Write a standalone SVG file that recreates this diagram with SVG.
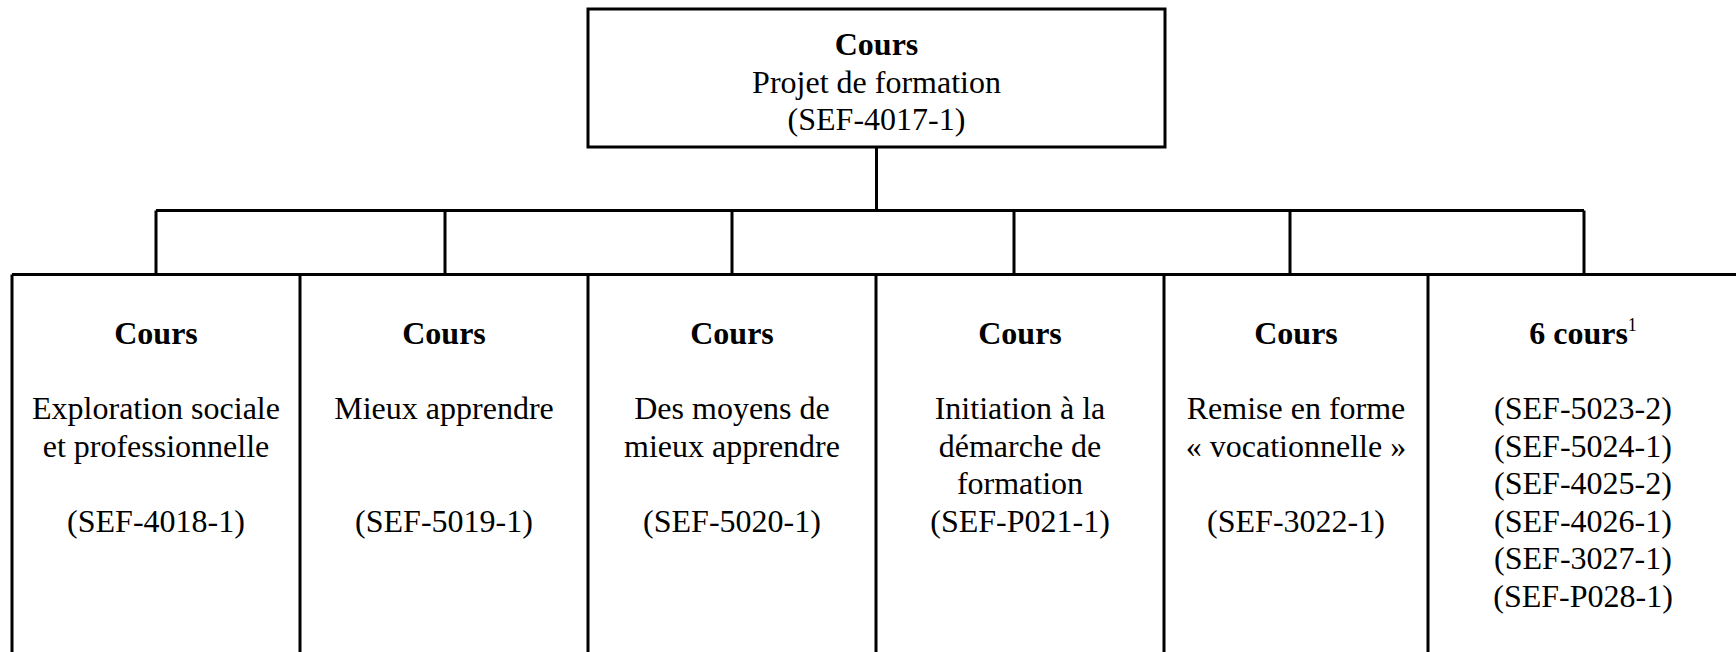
<svg xmlns="http://www.w3.org/2000/svg" width="1736" height="652" viewBox="0 0 1736 652">
<style>
.box{fill:none;stroke:#000;stroke-width:3}
.ln{fill:none;stroke:#000;stroke-width:3}
text{font-family:"Liberation Serif","Times New Roman",serif;font-size:32px;fill:#000;text-anchor:middle}
.b{font-weight:bold}
</style>
<rect width="1736" height="652" fill="#fff"/>
<g id="connectors">
<path class="ln" d="M876.5 147V210.5M156 210.5H1584M156 210.5V274M445 210.5V274M732 210.5V274M1014 210.5V274M1290 210.5V274M1584 210.5V274"/>
</g>
<g id="top">
<rect class="box" x="588" y="9" width="577" height="138"/>
<text x="876.5" y="55" class="b">Cours</text>
<text x="876.5" y="92.5">Projet de formation</text>
<text x="876.5" y="130">(SEF-4017-1)</text>
</g>
<g id="row">
<path class="ln" d="M12 274.5H1736M12 274.5V652M1740 274.5V652"/>
</g>
<g id="c1">
<path class="ln" d="M300 274.5V652"/>
<text x="156" y="344" class="b">Cours</text>
<text x="156" y="419">Exploration sociale</text>
<text x="156" y="456.5">et professionnelle</text>
<text x="156" y="531.5">(SEF-4018-1)</text>
</g>
<g id="c2">
<path class="ln" d="M588 274.5V652"/>
<text x="444" y="344" class="b">Cours</text>
<text x="444" y="419">Mieux apprendre</text>
<text x="444" y="531.5">(SEF-5019-1)</text>
</g>
<g id="c3">
<path class="ln" d="M876 274.5V652"/>
<text x="732" y="344" class="b">Cours</text>
<text x="732" y="419">Des moyens de</text>
<text x="732" y="456.5">mieux apprendre</text>
<text x="732" y="531.5">(SEF-5020-1)</text>
</g>
<g id="c4">
<path class="ln" d="M1164 274.5V652"/>
<text x="1020" y="344" class="b">Cours</text>
<text x="1020" y="419">Initiation à la</text>
<text x="1020" y="456.5">démarche de</text>
<text x="1020" y="494">formation</text>
<text x="1020" y="531.5">(SEF-P021-1)</text>
</g>
<g id="c5">
<path class="ln" d="M1428 274.5V652"/>
<text x="1296" y="344" class="b">Cours</text>
<text x="1296" y="419">Remise en forme</text>
<text x="1296" y="456.5">« vocationnelle »</text>
<text x="1296" y="531.5">(SEF-3022-1)</text>
</g>
<g id="c6">
<text x="1583" y="344"><tspan class="b">6 cours</tspan><tspan font-size="18" dy="-13">1</tspan></text>
<text x="1583" y="419">(SEF-5023-2)</text>
<text x="1583" y="456.5">(SEF-5024-1)</text>
<text x="1583" y="494">(SEF-4025-2)</text>
<text x="1583" y="531.5">(SEF-4026-1)</text>
<text x="1583" y="569">(SEF-3027-1)</text>
<text x="1583" y="606.5">(SEF-P028-1)</text>
</g>
</svg>
